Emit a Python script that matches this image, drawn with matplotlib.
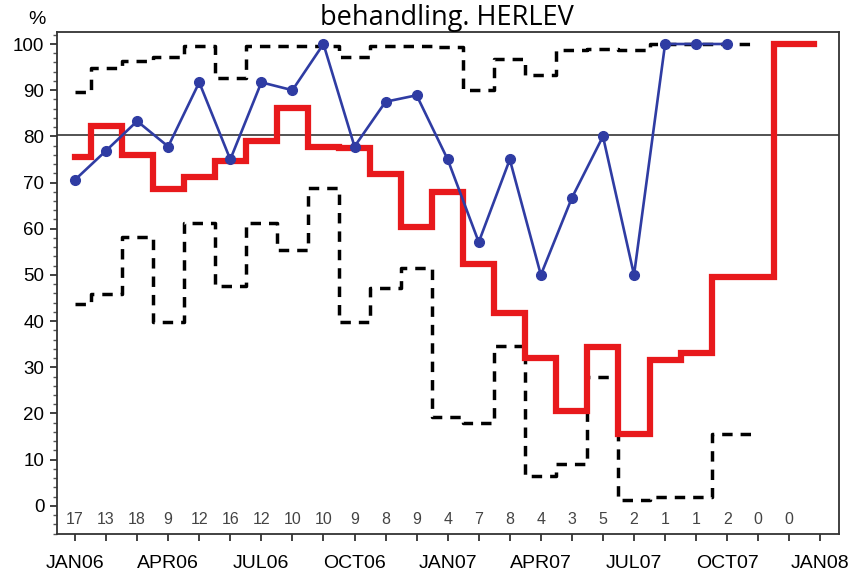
import matplotlib
matplotlib.use("Agg")
import matplotlib.pyplot as plt
from matplotlib.ticker import MultipleLocator
import numpy as np

# monthly data, JAN06 .. DEC07
months = np.arange(24)
counts = [17, 13, 18, 9, 12, 16, 12, 10, 10, 9, 8, 9, 4, 7, 8, 4, 3, 5, 2, 1, 1, 2, 0, 0]
observed = [70.6, 76.9, 83.3, 77.8, 91.7, 75.0, 91.7, 90.0, 100, 77.8, 87.5, 88.9,
            75.0, 57.1, 75.0, 50.0, 66.7, 80.0, 50.0, 100, 100, 100]
trend = [75.6, 82.3, 76.0, 68.5, 71.3, 74.7, 79.1, 86.1, 77.8, 77.4, 71.9, 60.3,
         68.0, 52.4, 41.8, 32.0, 20.6, 34.3, 15.6, 31.6, 33.2, 49.6, 49.6, 100]
upper = [89.6, 94.9, 96.3, 97.1, 99.6, 92.7, 99.6, 99.6, 99.6, 97.1, 99.6, 99.6,
         99.4, 90.0, 96.7, 93.3, 98.8, 99.0, 98.6, 100, 100, 100]
lower = [43.7, 45.9, 58.3, 39.8, 61.3, 47.5, 61.3, 55.4, 68.8, 39.8, 47.1, 51.4,
         19.2, 18.0, 34.6, 6.5, 9.1, 28.0, 1.2, 2.0, 2.0, 15.6]
target = 80.4
tick_months = [0, 3, 6, 9, 12, 15, 18, 21, 24]
tick_labels = ["JAN06", "APR06", "JUL06", "OCT06", "JAN07", "APR07", "JUL07", "OCT07", "JAN08"]
title = "behandling. HERLEV"


def step_xy(vals, tail=0.8):
    """steps-mid data, last step carried a bit past the last month"""
    x = list(months[:len(vals)]) + [len(vals) - 1 + tail]
    y = list(vals) + [vals[-1]]
    return x, y


fig = plt.figure(figsize=(8.52, 5.71), dpi=100)
ax = fig.add_axes([57 / 852, 1 - 534 / 571, (839 - 57) / 852, (534 - 32) / 571])

ax.axhline(target, color="#444444", lw=1.3, zorder=1)

# confidence limits
for lim in (upper, lower):
    x, y = step_xy(lim)
    ax.plot(x, y, drawstyle="steps-mid", color="black", lw=2.5, dashes=(3.0, 2.3), zorder=2)
x, y = step_xy(trend)
ax.plot(x, y, drawstyle="steps-mid", color="#e8191c", lw=4.5, zorder=3,
        solid_joinstyle="miter")
ax.plot(months[:len(observed)], observed, color="#2f3ca3", lw=1.9, marker="o",
        markersize=7, zorder=4)

for m, n in zip(months, counts):
    ax.text(m, -2.9, str(n), ha="center", va="center", fontsize=11.5,
            color="#444444", family="Liberation Sans")

ax.set_xlim(-0.58, 24.6)
ax.set_ylim(-6.1, 102.6)
ax.set_xticks(tick_months)
ax.set_xticklabels(tick_labels, family="Liberation Sans", fontsize=14)
ax.xaxis.set_minor_locator(MultipleLocator(1))
ax.yaxis.set_minor_locator(MultipleLocator(2))
ax.set_yticks(np.arange(0, 101, 10))
ax.set_yticklabels([str(v) for v in range(0, 101, 10)], family="Liberation Sans", fontsize=13.5)
ax.tick_params(axis="x", which="both", length=5, width=1.3, color="#333333", pad=10)
ax.tick_params(axis="y", which="major", length=5, width=1.3, color="#333333", pad=4)
ax.tick_params(axis="y", which="minor", length=3, width=1.0, color="#555555")
for s in ax.spines.values():
    s.set_color("#333333")
    s.set_linewidth(1.3)

fig.text(37 / 852, 1 - 20 / 571, "%", ha="center", va="center", fontsize=14,
         family="Liberation Sans")
fig.text(447 / 852, 1 - 25 / 571, title, ha="center", va="baseline", fontsize=19.5,
         family="Open Sans")

plt.savefig("out.png", dpi=100)
plt.close()
